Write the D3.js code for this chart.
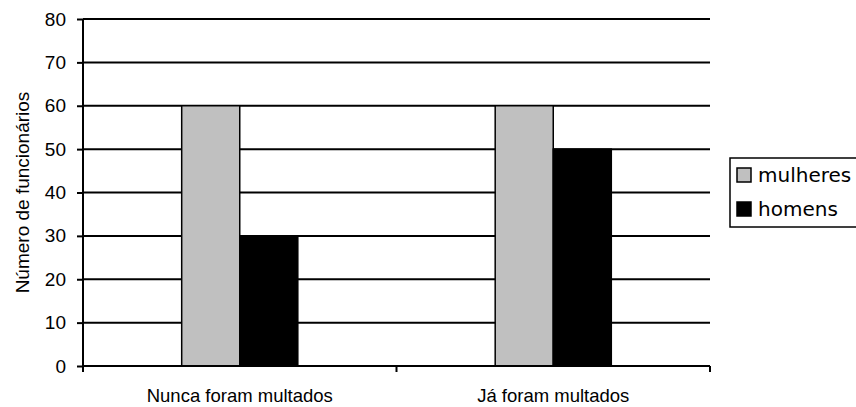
<!DOCTYPE html>
<html>
<head>
<meta charset="utf-8">
<script src="https://cdn.jsdelivr.net/npm/d3@7"></script>
<style>
  body { margin: 0; background: #fff; }
  text { font-family: "Liberation Sans", Arial, sans-serif; }
</style>
</head>
<body>
<div id="graphic"></div>
<script>
// Data
const categories = ["Nunca foram multados", "Já foram multados"];
const series = ["mulheres", "homens"];
const mulheres = [60, 60];
const homens = [30, 50];
const yTicks = [0, 10, 20, 30, 40, 50, 60, 70, 80];
const colors = ["#c0c0c0", "#000000"];

const data = categories.map((c, i) => ({ cat: c, values: [mulheres[i], homens[i]] }));

const margin = { top: 19, right: 146, bottom: 41, left: 83 };
const width = 856 - margin.left - margin.right;
const height = 407 - margin.top - margin.bottom;

const svg = d3.select("#graphic")
  .append("svg")
  .attr("width", 856)
  .attr("height", 407);

const g = svg.append("g")
  .attr("transform", `translate(${margin.left},${margin.top})`);

// Scales
const x0 = d3.scaleBand()
  .domain(categories)
  .range([0, width])
  .padding(0);

const x1 = d3.scaleBand()
  .domain(series)
  .range([0, x0.bandwidth()])
  .paddingInner(0)
  .paddingOuter(1.7);

const y = d3.scaleLinear()
  .domain([0, 80])
  .range([height, 0]);

// Gridlines
g.selectAll(".grid")
  .data(yTicks.filter(d => d > 0))
  .join("line")
  .attr("x1", 0)
  .attr("x2", width)
  .attr("y1", d => y(d))
  .attr("y2", d => y(d))
  .attr("stroke", "#000")
  .attr("stroke-width", 2);

// Bars
const groups = g.selectAll(".grp")
  .data(data)
  .join("g")
  .attr("transform", d => `translate(${x0(d.cat)},0)`);

groups.selectAll("rect")
  .data(d => d.values.map((v, i) => ({ key: series[i], value: v, i })))
  .join("rect")
  .attr("x", d => x1(d.key))
  .attr("y", d => y(d.value))
  .attr("width", x1.bandwidth())
  .attr("height", d => height - y(d.value))
  .attr("fill", d => colors[d.i])
  .attr("stroke", "#000")
  .attr("stroke-width", 1.5);

// Y axis
const yAxis = g.append("g")
  .call(d3.axisLeft(y).tickValues(yTicks).tickSize(6).tickPadding(11));
yAxis.select(".domain").attr("stroke-width", 2).attr("d", `M0,0V${height}`);
yAxis.selectAll(".tick line").attr("stroke-width", 2);
yAxis.selectAll("text").style("font-size", "19px").attr("fill", "#000")
  .style("font-family", "Liberation Sans, Arial, sans-serif");

// X axis
const xAxis = g.append("g")
  .attr("transform", `translate(0,${height})`)
  .call(d3.axisBottom(x0).tickSize(0));
xAxis.select(".domain").attr("stroke-width", 2).attr("d", `M0,0H${width}`);
xAxis.selectAll("text")
  .attr("y", 36)
  .attr("dy", null)
  .style("font-size", "18.5px").attr("fill", "#000")
  .style("font-family", "Liberation Sans, Arial, sans-serif");

// X ticks at band boundaries
g.selectAll(".xtick")
  .data([0, ...categories.map(c => x0(c) + x0.bandwidth())])
  .join("line")
  .attr("x1", d => d)
  .attr("x2", d => d)
  .attr("y1", height)
  .attr("y2", height + 6)
  .attr("stroke", "#000")
  .attr("stroke-width", 2);

// Y title
svg.append("text")
  .attr("transform", `translate(29,${margin.top + height / 2}) rotate(-90)`)
  .attr("text-anchor", "middle")
  .style("font-size", "19px")
  .text("Número de funcionários");

// Legend
const legend = svg.append("g").attr("transform", "translate(730,158)");
legend.append("rect")
  .attr("width", 130)
  .attr("height", 69)
  .attr("fill", "#fff")
  .attr("stroke", "#000")
  .attr("stroke-width", 1.5);

series.forEach((s, i) => {
  const row = legend.append("g").attr("transform", `translate(7,${10 + i * 34})`);
  row.append("rect")
    .attr("width", 14)
    .attr("height", 14)
    .attr("fill", colors[i])
    .attr("stroke", "#000")
    .attr("stroke-width", 1.5);
  row.append("text")
    .attr("x", 21)
    .attr("y", 14)
    .style("font-family", "DejaVu Sans, Verdana, sans-serif")
    .style("font-size", "20px")
    .text(s);
});
</script>
</body>
</html>
